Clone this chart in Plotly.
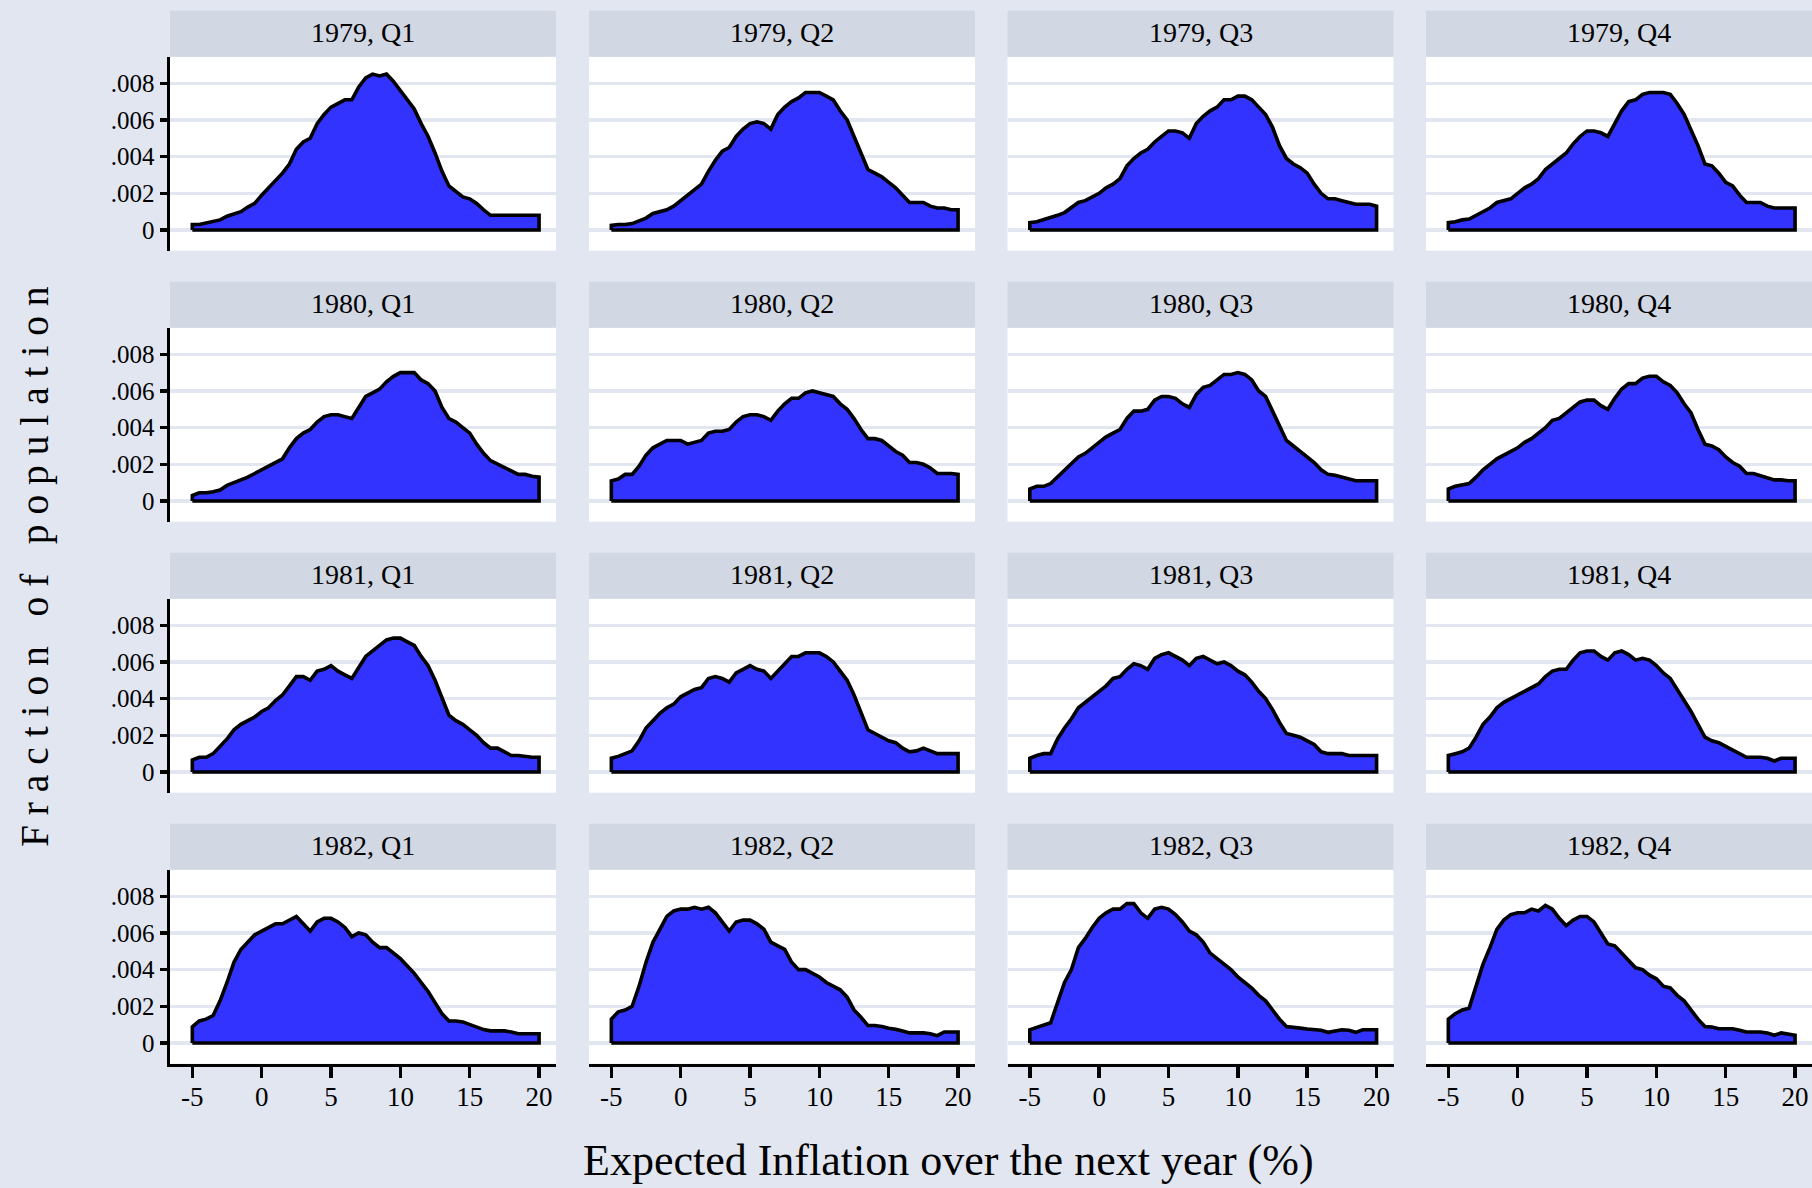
import plotly.graph_objects as go

# ---------------- data ----------------
X = [-5, -4.5, -4, -3.5, -3, -2.5, -2, -1.5, -1, -0.5,
     0, 0.5, 1, 1.5, 2, 2.5, 3, 3.5, 4, 4.5,
     5, 5.5, 6, 6.5, 7, 7.5, 8, 8.5, 9, 9.5,
     10, 10.5, 11, 11.5, 12, 12.5, 13, 13.5, 14, 14.5,
     15, 15.5, 16, 16.5, 17, 17.5, 18, 18.5, 19, 19.5, 20]

periods = ["1979, Q1", "1979, Q2", "1979, Q3", "1979, Q4",
           "1980, Q1", "1980, Q2", "1980, Q3", "1980, Q4",
           "1981, Q1", "1981, Q2", "1981, Q3", "1981, Q4",
           "1982, Q1", "1982, Q2", "1982, Q3", "1982, Q4"]

q79_1 = [.0003, .0003, .0004, .00045, .00055, .00075, .0009, .001, .00125, .00145,
         .0019, .0023, .0027, .0031, .0036, .0044, .0048, .005, .0058, .0063,
         .0067, .0069, .0071, .0071, .0078, .0083, .0085, .0084, .0085, .0081,
         .0076, .0071, .0066, .0058, .0051, .0042, .0032, .0024, .0021, .0018,
         .0017, .00145, .0011, .0008, .0008, .0008, .0008, .0008, .0008, .0008, .0008]
q79_2 = [.00025, .0003, .0003, .00035, .0005, .00065, .0009, .001, .0011, .0013,
         .0016, .0019, .0022, .0025, .0032, .0038, .0043, .0045, .0051, .0055,
         .0058, .0059, .0058, .0055, .0063, .0067, .007, .0072, .0075, .0075,
         .0075, .0073, .0071, .0065, .006, .0051, .0042, .0033, .0031, .0029,
         .0026, .0023, .0019, .0015, .0015, .0015, .0013, .0012, .0012, .0011, .0011]
q79_3 = [.0004, .00045, .00055, .00065, .0008, .00095, .0012, .0015, .0016, .0018,
         .002, .0023, .0025, .0028, .0035, .0039, .0042, .0044, .0048, .0051,
         .0054, .0054, .0053, .005, .0058, .0062, .0065, .0067, .0071, .0071,
         .0073, .0073, .0071, .0067, .0063, .0056, .0046, .0039, .0036, .0034,
         .0031, .0025, .002, .0017, .0017, .0016, .0015, .0014, .0014, .0014, .0013]
q79_4 = [.0004, .00045, .00055, .0006, .0008, .00095, .0012, .0015, .0016, .0017,
         .002, .0023, .0025, .0028, .0033, .0036, .0039, .0042, .0047, .0051,
         .0054, .0054, .0053, .0051, .0058, .0065, .007, .0071, .0074, .0075,
         .0075, .0075, .0074, .0069, .0063, .0055, .0046, .0036, .0035, .0031,
         .0026, .0024, .0019, .0015, .0015, .0015, .0013, .0012, .0012, .0012, .0012]
q80_1 = [.0003, .00045, .00045, .0005, .0006, .00085, .001, .0011, .0013, .0015,
         .0017, .0019, .0021, .0023, .0029, .0034, .0037, .0039, .0043, .0046,
         .0047, .0047, .0046, .0045, .0051, .0057, .0059, .0061, .0065, .0068,
         .007, .007, .007, .0066, .0064, .006, .0051, .0045, .0043, .004,
         .0037, .0031, .0026, .0022, .002, .0018, .0016, .00145, .00145, .00135, .0013]
q80_2 = [.0011, .0012, .00145, .00145, .0019, .0025, .0029, .0031, .0033, .0033,
         .0033, .0031, .0032, .0033, .0037, .0038, .0038, .0039, .0043, .0046,
         .0047, .0047, .0046, .0044, .0049, .0053, .0056, .0056, .0059, .006,
         .0059, .0058, .0057, .0053, .005, .0045, .0039, .0034, .0034, .0033,
         .003, .0027, .0025, .0021, .0021, .002, .0018, .0015, .0015, .0015, .00145]
q80_3 = [.00065, .0008, .0008, .00095, .0013, .0017, .002, .0024, .0026, .0029,
         .0032, .0035, .0037, .0039, .0045, .0049, .0049, .005, .0055, .0057,
         .0057, .0056, .0053, .0051, .0058, .0062, .0063, .0066, .0069, .0069,
         .007, .0069, .0066, .006, .0057, .0049, .0041, .0033, .003, .0027,
         .0024, .0021, .0017, .00145, .0014, .0013, .00115, .0011, .0011, .0011, .0011]
q80_4 = [.00065, .0008, .0009, .00095, .0013, .0017, .002, .0023, .0025, .0027,
         .0029, .0032, .0034, .0037, .004, .0044, .0045, .0048, .0051, .0054,
         .0055, .0055, .0052, .005, .0056, .0061, .0064, .0064, .0067, .0068,
         .0068, .0065, .0063, .0059, .0053, .0048, .0039, .0031, .003, .0028,
         .0024, .0021, .0019, .0015, .0015, .0014, .0013, .00115, .00115, .0011, .0011]
q81_1 = [.00065, .0008, .0008, .001, .0014, .0018, .0023, .0026, .0028, .003,
         .0033, .0035, .0039, .0042, .0047, .0052, .0052, .005, .0055, .0056,
         .0058, .0055, .0053, .0051, .0057, .0063, .0066, .0069, .0072, .0073,
         .0073, .0071, .0069, .0063, .0058, .005, .004, .0031, .0028, .0026,
         .0023, .002, .0016, .0013, .0013, .0011, .0009, .0009, .00085, .0008, .0008]
q81_2 = [.00075, .00085, .001, .00115, .0017, .0024, .0028, .0032, .0035, .0037,
         .0041, .0043, .0045, .0046, .0051, .0052, .0051, .0049, .0054, .0056,
         .0058, .0056, .0055, .0051, .0055, .0059, .0063, .0063, .0065, .0065,
         .0065, .0063, .006, .0055, .005, .0042, .0032, .0023, .0021, .0019,
         .0017, .0016, .0013, .0011, .00115, .0013, .00115, .001, .001, .001, .001]
q81_3 = [.00075, .0009, .001, .001, .0018, .0024, .0029, .0035, .0038, .0041,
         .0044, .0047, .0051, .0052, .0056, .0059, .0058, .0056, .0062, .0064,
         .0065, .0063, .0061, .0058, .0062, .0063, .0061, .0059, .006, .0058,
         .0055, .0053, .0049, .0044, .004, .0034, .0027, .0021, .002, .0019,
         .0017, .0015, .0011, .001, .001, .001, .0009, .0009, .0009, .0009, .0009]
q81_4 = [.0009, .001, .0011, .0013, .0019, .0026, .003, .0035, .0038, .004,
         .0042, .0044, .0046, .0048, .0052, .0055, .0056, .0056, .0061, .0065,
         .0066, .0066, .0063, .0061, .0065, .0066, .0064, .0061, .0062, .0061,
         .0058, .0054, .0051, .0045, .0039, .0033, .0026, .0019, .0017, .0016,
         .0014, .0012, .001, .0008, .0008, .0008, .00075, .0006, .00075, .00075, .00075]
q82_1 = [.00088, .0012, .0013, .0015, .0023, .0033, .0044, .0051, .0055, .0059,
         .0061, .0063, .0065, .0065, .0067, .0069, .0065, .0061, .0066, .0068,
         .0068, .0066, .0063, .0058, .006, .0059, .0055, .0052, .0052, .0049,
         .0046, .0042, .0038, .0033, .0028, .0022, .0016, .0012, .0012, .00115,
         .001, .00088, .00073, .00066, .00066, .00066, .0006, .0005, .0005, .0005, .0005]
q82_2 = [.0013, .0017, .0018, .002, .0031, .0044, .0055, .0062, .0069, .0072,
         .0073, .0073, .0074, .0073, .0074, .0071, .0066, .0061, .0066, .0067,
         .0067, .0065, .0062, .0055, .0053, .0051, .0044, .004, .004, .0038,
         .0036, .0033, .0031, .0029, .0025, .0018, .0014, .00095, .00095, .0009,
         .0008, .00075, .00065, .00055, .00055, .00055, .0005, .0004, .0006, .0006, .0006]
q82_3 = [.00072, .00085, .001, .0011, .0022, .0033, .004, .0052, .0057, .0063,
         .0068, .0071, .0073, .0073, .0076, .0076, .0071, .0068, .0073, .0074,
         .0073, .007, .0066, .0061, .0059, .0055, .0049, .0046, .0043, .004,
         .0036, .0033, .003, .0026, .0023, .0018, .0013, .0009, .00087, .00081,
         .00076, .00072, .00069, .00058, .00067, .00072, .00069, .00058, .00072, .00072, .00072]
q82_4 = [.0013, .0016, .0018, .0019, .0031, .0043, .0052, .0062, .0067, .007,
         .0071, .0071, .0073, .0072, .0075, .0073, .0068, .0064, .0067, .0069,
         .0069, .0066, .006, .0054, .0053, .0049, .0045, .0041, .004, .0037,
         .0035, .0031, .003, .0026, .0023, .0018, .0013, .0009, .00087, .00078,
         .00078, .00078, .0007, .0006, .0006, .0006, .00055, .00042, .00055, .0005, .00042]

series = [q79_1, q79_2, q79_3, q79_4,
          q80_1, q80_2, q80_3, q80_4,
          q81_1, q81_2, q81_3, q81_4,
          q82_1, q82_2, q82_3, q82_4]

ytick_vals = [0, 0.002, 0.004, 0.006, 0.008]
ytick_text = ["0", ".002", ".004", ".006", ".008"]
xtick_vals = [-5, 0, 5, 10, 15, 20]
xtick_text = ["-5", "0", "5", "10", "15", "20"]

x_title = "Expected Inflation over the next year (%)"
y_title = "Fraction of population"

# ---------------- styling / layout ----------------
for s in series:
    assert len(s) == len(X)

W_PX, H_PX = 1812, 1188
FONT = "Liberation Serif, Times New Roman, serif"
PAGE = "#e1e6f0"
STRIP = "#d1d7e3"
GRID = "#e1e6f0"
FILL = "#3333ff"

col_left = [170, 589, 1007.5, 1426]
col_w = 386
row_top = [56.7, 327.7, 598.7, 869.7]
row_h = 194
strip_h = 46

XR = [-6.61, 21.22]
YR = [-0.00113, 0.00945]

fig = go.Figure()
layout = {}
shapes = []
annotations = []

for i, (name, ys) in enumerate(zip(periods, series)):
    r, c = divmod(i, 4)
    n = i + 1
    sfx = "" if n == 1 else str(n)
    xa, ya = "x" + sfx, "y" + sfx
    xs = [X[0]] + X + [X[-1], X[0]]
    yy = [0] + ys + [0, 0]
    fig.add_trace(go.Scatter(
        x=xs, y=yy, xaxis=xa, yaxis=ya, mode="lines",
        fill="toself", fillcolor=FILL,
        line=dict(color="black", width=3.6),
        hoverinfo="skip", showlegend=False))

    x0 = col_left[c] / W_PX
    x1 = (col_left[c] + col_w) / W_PX
    y1 = 1 - row_top[r] / H_PX
    y0 = 1 - (row_top[r] + row_h) / H_PX
    bottom = (r == 3)
    left = (c == 0)

    layout["xaxis" + sfx] = dict(
        domain=[x0, x1], anchor=ya, range=XR, showgrid=False, zeroline=False,
        showline=bottom, linecolor="black", linewidth=3.5,
        ticks="outside" if bottom else "", ticklen=11, tickwidth=3.5, tickcolor="black",
        tickvals=xtick_vals, ticktext=xtick_text, showticklabels=bottom,
        tickfont=dict(family=FONT, size=27, color="black"),
        ticklabelstandoff=-5, fixedrange=True)
    layout["yaxis" + sfx] = dict(
        domain=[y0, y1], anchor=xa, range=YR, showgrid=True, gridcolor=GRID,
        gridwidth=3.5, zeroline=False,
        showline=left, linecolor="black", linewidth=3.5,
        ticks="outside" if left else "", ticklen=7, tickwidth=3.5, tickcolor="black",
        tickvals=ytick_vals, ticktext=ytick_text, showticklabels=left,
        tickfont=dict(family=FONT, size=25, color="black"), fixedrange=True)

    shapes.append(dict(type="rect", xref="paper", yref="paper",
                       x0=x0, x1=x1, y0=y1, y1=1 - (row_top[r] - strip_h) / H_PX,
                       fillcolor=STRIP, line=dict(width=0), layer="below"))
    annotations.append(dict(text=name, xref="paper", yref="paper",
                            x=(x0 + x1) / 2, y=1 - (row_top[r] - strip_h / 2 - 1) / H_PX,
                            xanchor="center", yanchor="middle", showarrow=False,
                            font=dict(family=FONT, size=28, color="black")))

annotations.append(dict(text=x_title, xref="paper", yref="paper",
                        x=948 / W_PX, y=1 - 1160 / H_PX, xanchor="center", yanchor="middle",
                        showarrow=False, font=dict(family=FONT, size=44, color="black")))

NB = "\u00a0"
spaced = (NB * 3).join(NB.join(word) for word in y_title.split(" "))
annotations.append(dict(text=spaced, xref="paper", yref="paper",
                        x=35 / W_PX, y=1 - 567 / H_PX, xanchor="center", yanchor="middle",
                        textangle=-90, showarrow=False,
                        font=dict(family=FONT, size=39.5, color="black")))

fig.update_layout(
    width=W_PX, height=H_PX, autosize=False,
    margin=dict(l=0, r=0, t=0, b=0, pad=0),
    paper_bgcolor=PAGE, plot_bgcolor="white",
    shapes=shapes, annotations=annotations, showlegend=False,
    **layout)

fig.write_html("out.html",
               config={"displayModeBar": False, "staticPlot": True},
               post_script="document.body.style.margin='0';document.body.style.overflow='hidden';document.body.style.background='%s';" % PAGE)
